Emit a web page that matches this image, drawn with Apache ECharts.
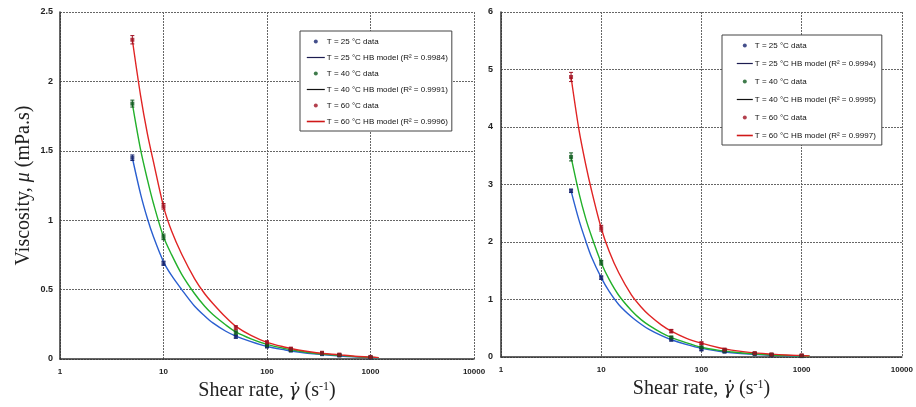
<!DOCTYPE html>
<html>
<head>
<meta charset="utf-8">
<script src="https://cdn.jsdelivr.net/npm/echarts@6/dist/echarts.min.js"></script>
<style>
html,body{margin:0;padding:0;background:#fff;}
#c{width:916px;height:407px;}
</style>
</head>
<body>
<div id="c"></div>
<script>
// ---- data ----
const shearRate = [5, 10, 50, 100, 170, 340, 500, 1000];
const modelRate = [5, 6, 7, 8, 10, 12, 15, 20, 25, 30, 40, 50, 70, 100, 150, 200, 300, 500, 700, 1000, 1200];

// left panel – measured data
const left25 = [1.45, 0.69, 0.16, 0.09, 0.06, 0.035, 0.025, 0.01];
const left40 = [1.84, 0.88, 0.19, 0.10, 0.065, 0.04, 0.028, 0.012];
const left60 = [2.30, 1.10, 0.225, 0.12, 0.075, 0.045, 0.032, 0.015];
const leftErr25 = [0.02, 0.015, 0.01, 0.008, 0.006, 0.005, 0.005, 0.004];
const leftErr40 = [0.025, 0.02, 0.012, 0.008, 0.006, 0.005, 0.005, 0.004];
const leftErr60 = [0.03, 0.02, 0.015, 0.01, 0.008, 0.006, 0.005, 0.005];
// left panel – HB model curves
const leftModel25 = [1.45, 1.19, 1.01, 0.88, 0.70, 0.60, 0.50, 0.38, 0.31, 0.26, 0.20, 0.165, 0.125, 0.09, 0.065, 0.05, 0.035, 0.022, 0.015, 0.01, 0.006];
const leftModel40 = [1.84, 1.51, 1.29, 1.12, 0.88, 0.75, 0.61, 0.47, 0.38, 0.32, 0.245, 0.195, 0.145, 0.105, 0.075, 0.058, 0.04, 0.026, 0.018, 0.012, 0.008];
const leftModel60 = [2.30, 1.90, 1.62, 1.42, 1.10, 0.92, 0.755, 0.578, 0.47, 0.40, 0.30, 0.235, 0.17, 0.12, 0.085, 0.065, 0.045, 0.03, 0.02, 0.014, 0.01];

// right panel – measured data
const right25 = [2.89, 1.38, 0.30, 0.13, 0.09, 0.05, 0.03, 0.015];
const right40 = [3.48, 1.64, 0.34, 0.17, 0.11, 0.06, 0.04, 0.02];
const right60 = [4.87, 2.24, 0.45, 0.24, 0.13, 0.07, 0.045, 0.03];
const rightErr25 = [0.03, 0.03, 0.02, 0.015, 0.01, 0.01, 0.01, 0.01];
const rightErr40 = [0.07, 0.04, 0.02, 0.015, 0.01, 0.01, 0.01, 0.01];
const rightErr60 = [0.08, 0.05, 0.03, 0.02, 0.015, 0.01, 0.01, 0.01];
// right panel – HB model curves
const rightModel25 = [2.89, 2.38, 2.02, 1.74, 1.38, 1.14, 0.91, 0.70, 0.57, 0.48, 0.37, 0.30, 0.22, 0.15, 0.10, 0.075, 0.05, 0.03, 0.02, 0.014, 0.01];
const rightModel40 = [3.48, 2.85, 2.41, 2.10, 1.64, 1.35, 1.07, 0.81, 0.65, 0.55, 0.42, 0.34, 0.25, 0.17, 0.115, 0.09, 0.06, 0.035, 0.025, 0.018, 0.014];
const rightModel60 = [4.87, 3.95, 3.35, 2.90, 2.24, 1.84, 1.46, 1.08, 0.87, 0.73, 0.555, 0.45, 0.33, 0.24, 0.16, 0.12, 0.08, 0.05, 0.035, 0.025, 0.02];

// names / labels
const dataNames = ['T = 25 °C data', 'T = 40 °C data', 'T = 60 °C data'];
const leftModelNames = ['T = 25 °C HB model (R² = 0.9984)', 'T = 40 °C HB model (R² = 0.9991)', 'T = 60 °C HB model (R² = 0.9996)'];
const rightModelNames = ['T = 25 °C HB model (R² = 0.9994)', 'T = 40 °C HB model (R² = 0.9995)', 'T = 60 °C HB model (R² = 0.9997)'];
const xTicks = [1, 10, 100, 1000, 10000];
const xTitle = 'Shear rate, {g|γ̇} (s{sup|-1})';
const yTitle = 'Viscosity, {i|μ} (mPa.s)';

// ---- styles ----
const curveColors = ['#2a5fd0', '#22b02a', '#e02424'];
const dotColors = ['#15236e', '#0f5a1e', '#a01020'];
const legendLineColors = ['#1c1c50', '#111111', '#d01818'];
const sans = "'Liberation Sans',Arial,sans-serif";
const serif = "'Liberation Serif','Times New Roman',serif";

function fmtTick(v) {
  const r = Math.round(v);
  return xTicks.indexOf(r) >= 0 ? String(r) : '';
}

function errSeries(ax, ys, errs, color) {
  return {
    type: 'custom', xAxisIndex: ax, yAxisIndex: ax, silent: true, z: 6,
    data: shearRate.map((x, i) => [x, ys[i], errs[i]]),
    renderItem: function (params, api) {
      const x = api.value(0), y = api.value(1), e = api.value(2);
      const t = api.coord([x, y + e]);
      const b = api.coord([x, Math.max(y - e, 0.0001)]);
      const w = 2;
      const st = { stroke: color, lineWidth: 1 };
      return {
        type: 'group', children: [
          { type: 'line', shape: { x1: t[0], y1: t[1], x2: b[0], y2: b[1] }, style: st },
          { type: 'line', shape: { x1: t[0] - w, y1: t[1], x2: t[0] + w, y2: t[1] }, style: st },
          { type: 'line', shape: { x1: b[0] - w, y1: b[1], x2: b[0] + w, y2: b[1] }, style: st }
        ]
      };
    }
  };
}

function modelSeries(ax, name, ys, color) {
  return {
    type: 'line', name: name, xAxisIndex: ax, yAxisIndex: ax, smooth: 0.3,
    symbol: 'none', z: 3,
    lineStyle: { color: color, width: 1.4 },
    itemStyle: { color: color },
    data: modelRate.map((x, i) => [x, ys[i]])
  };
}

function dataSeries(ax, name, ys, color) {
  return {
    type: 'scatter', name: name, xAxisIndex: ax, yAxisIndex: ax,
    symbol: 'rect', symbolSize: 4, z: 7,
    itemStyle: { color: color },
    data: shearRate.map((x, i) => [x, ys[i]])
  };
}

function legendData(modelNames) {
  const out = [];
  for (let k = 0; k < 3; k++) {
    out.push({ name: dataNames[k], icon: 'circle', itemStyle: { color: dotColors[k] } });
    out.push({
      name: modelNames[k],
      itemStyle: { color: 'rgba(0,0,0,0)', borderWidth: 0 },
      lineStyle: { color: legendLineColors[k], width: k === 2 ? 1.6 : 1.2 }
    });
  }
  return out;
}

const axisLabelStyle = { fontFamily: sans, fontSize: 9, fontWeight: 'bold', color: '#222' };
const splitDotted = { show: true, lineStyle: { type: [2, 1], color: '#666', width: 1 } };
const axisLineSolid = { show: true, onZero: false, lineStyle: { color: '#333', width: 1.5 } };

function xAxis(gi) {
  return {
    type: 'log', logBase: 10, min: 1, max: 10000, gridIndex: gi,
    axisLine: axisLineSolid, axisTick: { show: false }, minorTick: { show: false },
    splitLine: splitDotted,
    axisLabel: Object.assign({}, axisLabelStyle, { margin: 9, fontSize: 8, formatter: fmtTick }),
    name: xTitle, nameLocation: 'middle', nameGap: 22,
    nameTextStyle: {
      fontFamily: serif, fontSize: 20, color: '#222',
      rich: {
        g: { fontFamily: "'DejaVu Serif',serif", fontSize: 18, fontStyle: 'italic', color: '#222' },
        sup: { fontFamily: serif, fontSize: 12, color: '#222', verticalAlign: 'top', padding: [0, 0, 8, 0] }
      }
    }
  };
}

function legendBox(left, top, names, itemWidth, itemGap, padding) {
  return {
    orient: 'vertical', left: left, top: top,
    data: legendData(names),
    itemWidth: itemWidth, itemHeight: 4, itemGap: itemGap,
    padding: padding,
    backgroundColor: '#fff', borderColor: '#444', borderWidth: 1,
    textStyle: { fontFamily: sans, fontSize: 8, color: '#111', padding: [0, 0, 0, -3], lineHeight: 11 },
    selectedMode: false
  };
}

const option = {
  animation: false,
  backgroundColor: '#ffffff',
  grid: [
    { left: 60, top: 12, width: 414, height: 347, containLabel: false },
    { left: 501, top: 12, width: 402, height: 345, containLabel: false }
  ],
  xAxis: [xAxis(0), xAxis(1)],
  yAxis: [
    {
      type: 'value', gridIndex: 0, min: 0, max: 2.5, interval: 0.5,
      axisLine: axisLineSolid, axisTick: { show: false }, splitLine: splitDotted,
      axisLabel: Object.assign({ margin: 7 }, axisLabelStyle),
      name: yTitle, nameLocation: 'middle', nameRotate: 90, nameGap: 26,
      nameTextStyle: {
        fontFamily: serif, fontSize: 20, color: '#222',
        rich: { i: { fontFamily: serif, fontSize: 20, fontStyle: 'italic', color: '#222' } }
      }
    },
    {
      type: 'value', gridIndex: 1, min: 0, max: 6, interval: 1,
      axisLine: axisLineSolid, axisTick: { show: false }, splitLine: splitDotted,
      axisLabel: Object.assign({ margin: 8 }, axisLabelStyle)
    }
  ],
  legend: [
    legendBox(300, 31, leftModelNames, 18, 5, [5, 4, 4, 6]),
    legendBox(722, 35, rightModelNames, 16, 7, [5, 6, 4, 14])
  ],
  series: [
    modelSeries(0, leftModelNames[0], leftModel25, curveColors[0]),
    modelSeries(0, leftModelNames[1], leftModel40, curveColors[1]),
    modelSeries(0, leftModelNames[2], leftModel60, curveColors[2]),
    errSeries(0, left25, leftErr25, dotColors[0]),
    errSeries(0, left40, leftErr40, dotColors[1]),
    errSeries(0, left60, leftErr60, dotColors[2]),
    dataSeries(0, dataNames[0], left25, dotColors[0]),
    dataSeries(0, dataNames[1], left40, dotColors[1]),
    dataSeries(0, dataNames[2], left60, dotColors[2]),

    modelSeries(1, rightModelNames[0], rightModel25, curveColors[0]),
    modelSeries(1, rightModelNames[1], rightModel40, curveColors[1]),
    modelSeries(1, rightModelNames[2], rightModel60, curveColors[2]),
    errSeries(1, right25, rightErr25, dotColors[0]),
    errSeries(1, right40, rightErr40, dotColors[1]),
    errSeries(1, right60, rightErr60, dotColors[2]),
    dataSeries(1, dataNames[0], right25, dotColors[0]),
    dataSeries(1, dataNames[1], right40, dotColors[1]),
    dataSeries(1, dataNames[2], right60, dotColors[2])
  ]
};

const chart = echarts.init(document.getElementById('c'), null, { renderer: 'canvas', width: 916, height: 407 });
chart.setOption(option);
</script>
</body>
</html>
